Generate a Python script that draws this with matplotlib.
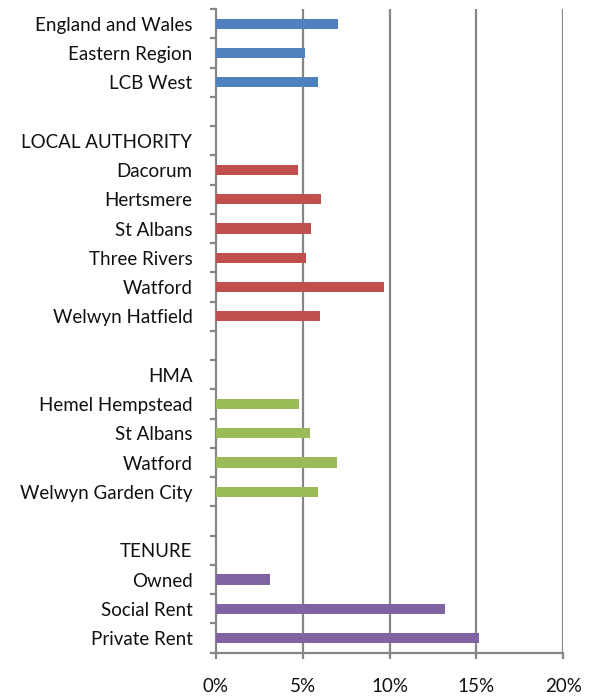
import matplotlib
matplotlib.use("Agg")
import matplotlib.pyplot as plt
import numpy as np

plt.rcParams['font.family'] = ['Lato', 'DejaVu Sans']

categories = ["England and Wales", "Eastern Region", "LCB West", "",
              "LOCAL AUTHORITY", "Dacorum", "Hertsmere", "St Albans", "Three Rivers",
              "Watford", "Welwyn Hatfield", "",
              "HMA", "Hemel Hempstead", "St Albans", "Watford", "Welwyn Garden City", "",
              "TENURE", "Owned", "Social Rent", "Private Rent"]
values = [7.05, 5.1, 5.9, None,
          None, 4.7, 6.05, 5.45, 5.2, 9.65, 6.0, None,
          None, 4.8, 5.4, 6.95, 5.9, None,
          None, 3.1, 13.2, 15.15]
groups = ["blue", "blue", "blue", None,
          None, "red", "red", "red", "red", "red", "red", None,
          None, "green", "green", "green", "green", None,
          None, "purple", "purple", "purple"]
palette = {"blue": "#4F81BD", "red": "#C0504D", "green": "#9BBB59", "purple": "#8064A2"}
xticks = [0, 5, 10, 15, 20]
xticklabels = ["0%", "5%", "10%", "15%", "20%"]

fig = plt.figure(figsize=(5.97, 7.0), dpi=100)
ax = fig.add_axes([0.3618, 0.0676, 0.9436 - 0.3618, 0.987 - 0.0676])

n = len(categories)
ypos = np.arange(n)
for y, v, g in zip(ypos, values, groups):
    if v is not None:
        ax.barh(y, v, height=0.35, color=palette[g], zorder=3)

ax.set_ylim(n - 0.5, -0.5)
ax.set_xlim(0, 20)

grid_color = "#868686"
for x in xticks[1:]:
    ax.axvline(x, color=grid_color, lw=1.6, zorder=1)

ax.set_yticks(np.arange(n + 1) - 0.5)
ax.set_yticklabels([])
ax.set_yticks(ypos, minor=True)
ax.set_yticklabels(categories, minor=True, fontsize=13.5, color="#111111")
ax.tick_params(axis="y", which="major", length=4.5, width=1.6, color=grid_color)
ax.tick_params(axis="y", which="minor", length=0, pad=17)

ax.set_xticks(xticks)
ax.set_xticklabels(xticklabels, fontsize=13.5, color="#111111")
ax.tick_params(axis="x", length=4.5, width=1.6, color=grid_color, pad=14)

for s in ["top", "right"]:
    ax.spines[s].set_visible(False)
for s in ["left", "bottom"]:
    ax.spines[s].set_color(grid_color)
    ax.spines[s].set_linewidth(1.6)

fig.savefig("out.png", dpi=100)
